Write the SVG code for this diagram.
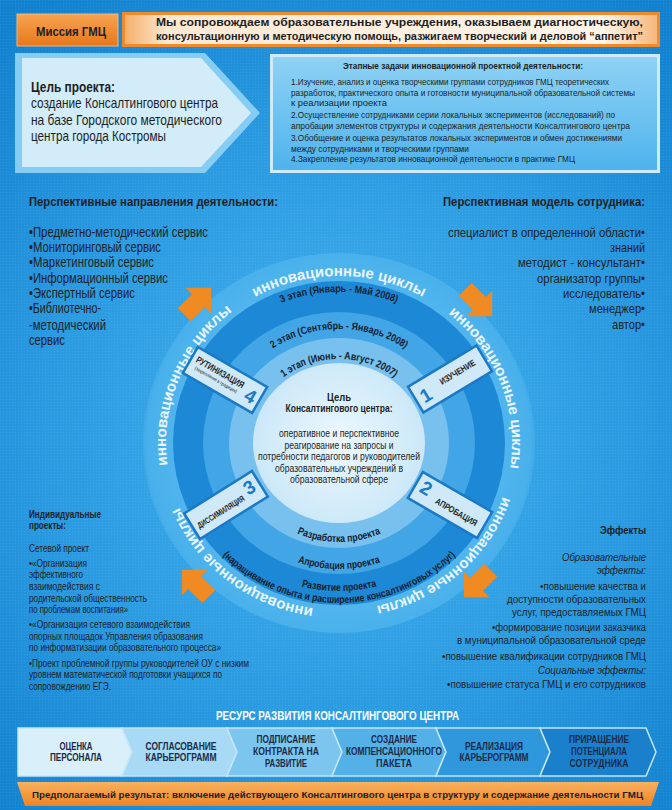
<svg xmlns="http://www.w3.org/2000/svg" width="672" height="810" viewBox="0 0 672 810">
<defs>
<radialGradient id="bg" cx="340" cy="430" r="520" gradientUnits="userSpaceOnUse">
<stop offset="0" stop-color="#48b4ee"/><stop offset="0.55" stop-color="#2b9be2"/><stop offset="1" stop-color="#1281cf"/>
</radialGradient>
<pattern id="grid" width="3" height="3" patternUnits="userSpaceOnUse"><rect width="1" height="1" fill="#ffffff" opacity="0.08"/></pattern>
<radialGradient id="halo" cx="339" cy="443" r="200" gradientUnits="userSpaceOnUse">
<stop offset="0.8" stop-color="#52b6ee"/><stop offset="0.96" stop-color="#48b0eb"/><stop offset="1" stop-color="#48b0eb" stop-opacity="0"/>
</radialGradient>
<radialGradient id="core" cx="339" cy="443" r="90" gradientUnits="userSpaceOnUse">
<stop offset="0" stop-color="#eef8fe"/><stop offset="1" stop-color="#c9e7f8"/>
</radialGradient>
<linearGradient id="orange" x1="0" y1="0" x2="0" y2="1"><stop offset="0" stop-color="#f7a452"/><stop offset="1" stop-color="#e8771a"/></linearGradient>
<linearGradient id="peach" x1="0" y1="0" x2="1" y2="0"><stop offset="0" stop-color="#f6b06a"/><stop offset="0.08" stop-color="#fde8d2"/><stop offset="0.9" stop-color="#fff4e8"/><stop offset="1" stop-color="#f6b77a"/></linearGradient>
<linearGradient id="task" x1="0" y1="0" x2="0" y2="1"><stop offset="0" stop-color="#8fd2f5"/><stop offset="1" stop-color="#4fb3ec"/></linearGradient>
<linearGradient id="bar" x1="0" y1="0" x2="0" y2="1"><stop offset="0" stop-color="#f9b25e"/><stop offset="1" stop-color="#ee8424"/></linearGradient>
<path id="bandP" d="M339,610 A173,167 0 1 1 339,276 A173,167 0 1 1 339,610"/>
<path id="t1" d="M250,443 A89,84 0 0 1 428,443"/>
<path id="t2" d="M221,443 A118,114 0 0 1 457,443"/>
<path id="t3" d="M184,443 A155,151 0 0 1 494,443"/>
<path id="b1" d="M236,443 A103,99 0 0 0 442,443"/>
<path id="b2" d="M209,443 A130,126 0 0 0 469,443"/>
<path id="b3" d="M187,443 A152,148 0 0 0 491,443"/>
<path id="b4" d="M175,443 A164,160 0 0 0 503,443"/>
<polygon id="arr" points="-18,-9 2,-9 2,-18 20,0 2,18 2,9 -18,9" fill="#f08a22"/>
</defs>
<style>
.t{font-family:'Liberation Sans Narrow','Liberation Sans',Arial,sans-serif;fill:#1c1f26}
.b{font-weight:bold}
.i{font-style:italic}
.w{fill:#ffffff}
.ring{font-family:'Liberation Sans Narrow','Liberation Sans',Arial,sans-serif;font-weight:bold;font-size:10.5px;fill:#15202e}
.band{font-family:'Liberation Sans','Liberation Sans Narrow',Arial,sans-serif;font-weight:bold;font-size:15px;fill:#e9f6fd}
.box{fill:#cfe9f8;stroke:#1b79c6;stroke-width:2.5}
.dig{font-family:'Liberation Sans',Arial,sans-serif;font-weight:bold;font-size:19px;fill:#1b79c6}
.chev{stroke:#c4e6f8;stroke-width:1.5}
.ct{font-family:'Liberation Sans Narrow','Liberation Sans',Arial,sans-serif;font-weight:bold;font-size:10.5px;fill:#1a2a48}
</style>
<rect width="672" height="810" fill="url(#bg)"/>
<rect width="672" height="810" fill="url(#grid)"/>

<g id="mission">
<rect x="17" y="14" width="101" height="32" fill="url(#orange)" stroke="#f7b676" stroke-width="1"/>
<text class="t b" x="71" y="35.5" font-size="13" text-anchor="middle" textLength="70" lengthAdjust="spacingAndGlyphs">Миссия ГМЦ</text>
<rect x="122" y="12" width="538" height="35" fill="#f08a2a"/>
<rect x="125" y="15" width="532" height="29" fill="url(#peach)"/>
<text class="t b" x="156" y="26" font-size="11.5" textLength="487" lengthAdjust="spacingAndGlyphs">Мы сопровождаем образовательные учреждения, оказываем диагностическую,</text>
<text class="t b" x="156" y="40" font-size="11.5" textLength="487" lengthAdjust="spacingAndGlyphs">консультационную и методическую помощь, разжигаем творческий и деловой “аппетит”</text>
</g>

<g id="goal">
<polygon points="15,53 205,53 260,113 205,173 15,173" fill="#86cdf3"/>
<polygon points="22,58 201,58 251,113 201,167 22,167" fill="#d3ecf9"/>
<text class="t b" x="31" y="92" font-size="15" textLength="84" lengthAdjust="spacingAndGlyphs">Цель проекта:</text>
<text class="t" x="31" y="108" font-size="14.5" textLength="187" lengthAdjust="spacingAndGlyphs">создание Консалтингового центра</text>
<text class="t" x="31" y="125" font-size="14.5" textLength="191" lengthAdjust="spacingAndGlyphs">на базе Городского методического</text>
<text class="t" x="31" y="141" font-size="14.5" textLength="135" lengthAdjust="spacingAndGlyphs">центра города Костромы</text>
</g>

<g id="tasks">
<rect x="270" y="54" width="390" height="119" fill="#cfeaf8"/>
<rect x="273" y="57" width="384" height="113" fill="url(#task)"/>
<text class="t b" x="343" y="69" font-size="9.5" textLength="240" lengthAdjust="spacingAndGlyphs">Этапные задачи инновационной проектной деятельности:</text>
<g class="t" font-size="8.7">
<text x="291" y="85" textLength="318" lengthAdjust="spacingAndGlyphs">1.Изучение, анализ и оценка творческими группами сотрудников ГМЦ теоретических</text>
<text x="291" y="96" textLength="344" lengthAdjust="spacingAndGlyphs">разработок, практического опыта и готовности муниципальной образовательной системы</text>
<text x="291" y="106" textLength="96" lengthAdjust="spacingAndGlyphs">к реализации проекта</text>
<text x="291" y="117.5" textLength="324" lengthAdjust="spacingAndGlyphs">2.Осуществление сотрудниками серии локальных экспериментов (исследований) по</text>
<text x="291" y="129" textLength="339" lengthAdjust="spacingAndGlyphs">апробации элементов структуры и содержания деятельности Консалтингового центра</text>
<text x="291" y="141" textLength="331" lengthAdjust="spacingAndGlyphs">3.Обобщение и оценка результатов локальных экспериментов и обмен достижениями</text>
<text x="291" y="152" textLength="178" lengthAdjust="spacingAndGlyphs">между сотрудниками и творческими группами</text>
<text x="291" y="162" textLength="284" lengthAdjust="spacingAndGlyphs">4.Закрепление результатов инновационной деятельности в практике ГМЦ</text>
</g>
</g>

<g id="directions" class="t" font-size="14.5">
<text class="b" x="29" y="206" font-size="13.5" textLength="249" lengthAdjust="spacingAndGlyphs">Перспективные направления деятельности:</text>
<text x="29" y="237" textLength="179" lengthAdjust="spacingAndGlyphs">•Предметно-методический сервис</text>
<text x="29" y="252" textLength="132" lengthAdjust="spacingAndGlyphs">•Мониторинговый сервис</text>
<text x="29" y="267" textLength="125" lengthAdjust="spacingAndGlyphs">•Маркетинговый сервис</text>
<text x="29" y="283" textLength="139" lengthAdjust="spacingAndGlyphs">•Информационный сервис</text>
<text x="29" y="298" textLength="106" lengthAdjust="spacingAndGlyphs">•Экспертный сервис</text>
<text x="29" y="313" textLength="72" lengthAdjust="spacingAndGlyphs">•Библиотечно-</text>
<text x="29" y="330" textLength="77" lengthAdjust="spacingAndGlyphs">-методический</text>
<text x="29" y="345" textLength="36" lengthAdjust="spacingAndGlyphs">сервис</text>
</g>

<g id="model" class="t" font-size="12.8">
<text class="b" x="443" y="206" font-size="12.3" textLength="202" lengthAdjust="spacingAndGlyphs">Перспективная модель сотрудника:</text>
<text x="448" y="237" textLength="197" lengthAdjust="spacingAndGlyphs">специалист в определенной области•</text>
<text x="610" y="252" textLength="35" lengthAdjust="spacingAndGlyphs">знаний</text>
<text x="518" y="267" textLength="127" lengthAdjust="spacingAndGlyphs">методист - консультант•</text>
<text x="537" y="283" textLength="108" lengthAdjust="spacingAndGlyphs">организатор группы•</text>
<text x="563" y="298" textLength="82" lengthAdjust="spacingAndGlyphs">исследователь•</text>
<text x="589" y="313" textLength="56" lengthAdjust="spacingAndGlyphs">менеджер•</text>
<text x="612" y="329" textLength="33" lengthAdjust="spacingAndGlyphs">автор•</text>
</g>

<g id="cycle">
<ellipse cx="339" cy="443" rx="196" ry="190" fill="url(#halo)"/>
<ellipse cx="339" cy="443" rx="166" ry="162" fill="#1d88d5"/>
<ellipse cx="339" cy="443" rx="136" ry="131" fill="#42a6e6"/>
<ellipse cx="339" cy="443" rx="110" ry="105" fill="#78c1ef"/>
<ellipse cx="339" cy="443" rx="86" ry="80" fill="url(#core)"/>
<text class="band"><textPath href="#bandP" startOffset="10.6%" text-anchor="middle" textLength="175" lengthAdjust="spacingAndGlyphs">инновационные циклы</textPath></text>
<text class="band"><textPath href="#bandP" startOffset="31.1%" text-anchor="middle" textLength="175" lengthAdjust="spacingAndGlyphs">инновационные циклы</textPath></text>
<text class="band"><textPath href="#bandP" startOffset="50%" text-anchor="middle" textLength="175" lengthAdjust="spacingAndGlyphs">инновационные циклы</textPath></text>
<text class="band"><textPath href="#bandP" startOffset="69.2%" text-anchor="middle" textLength="175" lengthAdjust="spacingAndGlyphs">инновационные циклы</textPath></text>
<text class="band"><textPath href="#bandP" startOffset="88.3%" text-anchor="middle" textLength="175" lengthAdjust="spacingAndGlyphs">инновационные циклы</textPath></text>
<text class="ring"><textPath href="#t3" startOffset="50%" text-anchor="middle" textLength="118" lengthAdjust="spacingAndGlyphs">3 этап (Январь - Май 2008)</textPath></text>
<text class="ring"><textPath href="#t2" startOffset="50%" text-anchor="middle" textLength="140" lengthAdjust="spacingAndGlyphs">2 этап (Сентябрь - Январь 2008)</textPath></text>
<text class="ring"><textPath href="#t1" startOffset="50%" text-anchor="middle" textLength="119" lengthAdjust="spacingAndGlyphs">1 этап (Июнь - Август 2007)</textPath></text>
<text class="ring"><textPath href="#b1" startOffset="50%" text-anchor="middle" textLength="86" lengthAdjust="spacingAndGlyphs">Разработка проекта</textPath></text>
<text class="ring"><textPath href="#b2" startOffset="50%" text-anchor="middle" textLength="84" lengthAdjust="spacingAndGlyphs">Апробация проекта</textPath></text>
<text class="ring"><textPath href="#b3" startOffset="50%" text-anchor="middle" textLength="76" lengthAdjust="spacingAndGlyphs">Развитие проекта</textPath></text>
<text class="ring" font-size="10"><textPath href="#b4" startOffset="50%" text-anchor="middle" textLength="258" lengthAdjust="spacingAndGlyphs">(наращивание опыта и расширение консалтинговых услуг)</textPath></text>
</g>

<g id="center" class="t" font-size="10" text-anchor="middle">
<text class="b" x="339" y="401" textLength="24" lengthAdjust="spacingAndGlyphs">Цель</text>
<text class="b" x="339" y="412" textLength="107" lengthAdjust="spacingAndGlyphs">Консалтингового центра:</text>
<text x="339" y="436.5" textLength="120" lengthAdjust="spacingAndGlyphs">оперативное и перспективное</text>
<text x="339" y="448.5" textLength="109" lengthAdjust="spacingAndGlyphs">реагирование на запросы и</text>
<text x="339" y="460" textLength="162" lengthAdjust="spacingAndGlyphs">потребности педагогов и руководителей</text>
<text x="339" y="471.5" textLength="128" lengthAdjust="spacingAndGlyphs">образовательных учреждений в</text>
<text x="339" y="483" textLength="98" lengthAdjust="spacingAndGlyphs">образовательной сфере</text>
</g>

<g id="stage1" transform="translate(450,379) rotate(-31)">
<rect class="box" x="-40" y="-15" width="80" height="30"/>
<text class="dig" x="-29" y="8" text-anchor="middle">1</text>
<text class="t b" x="10" y="1" font-size="9" text-anchor="middle" textLength="40" lengthAdjust="spacingAndGlyphs">ИЗУЧЕНИЕ</text>
</g>
<g id="stage2" transform="translate(450,505) rotate(30)">
<rect class="box" x="-40" y="-15" width="80" height="30"/>
<text class="dig" x="-29" y="4" text-anchor="middle">2</text>
<text class="t b" x="9" y="6" font-size="9" text-anchor="middle" textLength="47" lengthAdjust="spacingAndGlyphs">АПРОБАЦИЯ</text>
</g>
<g id="stage3" transform="translate(226,505) rotate(-32)">
<rect class="box" x="-40" y="-15" width="80" height="30"/>
<text class="dig" x="29" y="4" text-anchor="middle">3</text>
<text class="t b" x="-8" y="6" font-size="8.5" text-anchor="middle" textLength="54" lengthAdjust="spacingAndGlyphs">ДИССИМИЛЯЦИЯ</text>
</g>
<g id="stage4" transform="translate(225,380) rotate(30)">
<rect class="box" x="-40" y="-15" width="80" height="30"/>
<text class="dig" x="30" y="8" text-anchor="middle">4</text>
<text class="t b" x="-8" y="-1" font-size="9.5" text-anchor="middle" textLength="54" lengthAdjust="spacingAndGlyphs">РУТИНИЗАЦИЯ</text>
<text class="t" x="-8" y="6" font-size="5" text-anchor="middle" textLength="48" lengthAdjust="spacingAndGlyphs">(закрепление в традиции)</text>
</g>

<g id="connectors">
<use href="#arr" transform="translate(197,302) rotate(-45)"/>
<use href="#arr" transform="translate(478,302) rotate(45)"/>
<use href="#arr" transform="translate(478,583) rotate(135)"/>
<use href="#arr" transform="translate(196,584) rotate(-135)"/>
</g>

<g id="projects" class="t" font-size="10">
<text class="b" x="29" y="518" textLength="72" lengthAdjust="spacingAndGlyphs">Индивидуальные</text>
<text class="b" x="29" y="529" textLength="37" lengthAdjust="spacingAndGlyphs">проекты:</text>
<text x="29" y="552" textLength="60" lengthAdjust="spacingAndGlyphs">Сетевой проект</text>
<text x="29" y="567" textLength="58" lengthAdjust="spacingAndGlyphs">•«Организация</text>
<text x="29" y="578" textLength="54" lengthAdjust="spacingAndGlyphs">эффективного</text>
<text x="29" y="590" textLength="71" lengthAdjust="spacingAndGlyphs">взаимодействия с</text>
<text x="29" y="602" textLength="118" lengthAdjust="spacingAndGlyphs">родительской общественность</text>
<text x="29" y="613" textLength="99" lengthAdjust="spacingAndGlyphs">по проблемам воспитания»</text>
<text x="29" y="628" textLength="161" lengthAdjust="spacingAndGlyphs">•«Организация сетевого взаимодействия</text>
<text x="29" y="640" textLength="174" lengthAdjust="spacingAndGlyphs">опорных площадок Управления образования</text>
<text x="29" y="651" textLength="192" lengthAdjust="spacingAndGlyphs">по информатизации образовательного процесса»</text>
<text x="29" y="667" textLength="220" lengthAdjust="spacingAndGlyphs">•Проект проблемной группы руководителей ОУ с низким</text>
<text x="29" y="678" textLength="193" lengthAdjust="spacingAndGlyphs">уровнем математической подготовки учащихся по</text>
<text x="29" y="690" textLength="82" lengthAdjust="spacingAndGlyphs">сопровождению ЕГЭ.</text>
</g>

<g id="effects" class="t" font-size="10.8">
<text class="b" x="600" y="534" textLength="46" lengthAdjust="spacingAndGlyphs">Эффекты</text>
<text class="i" x="562" y="561" textLength="84" lengthAdjust="spacingAndGlyphs">Образовательные</text>
<text class="i" x="597" y="574" textLength="49" lengthAdjust="spacingAndGlyphs">эффекты:</text>
<text x="540" y="590" textLength="106" lengthAdjust="spacingAndGlyphs">•повышение качества и</text>
<text x="507" y="603" textLength="139" lengthAdjust="spacingAndGlyphs">доступности образовательных</text>
<text x="512" y="616" textLength="134" lengthAdjust="spacingAndGlyphs">услуг, предоставляемых ГМЦ</text>
<text x="492" y="631" textLength="154" lengthAdjust="spacingAndGlyphs">•формирование позиции заказчика</text>
<text x="457" y="644" textLength="189" lengthAdjust="spacingAndGlyphs">в муниципальной образовательной среде</text>
<text x="442" y="660" textLength="204" lengthAdjust="spacingAndGlyphs">•повышение квалификации сотрудников ГМЦ</text>
<text class="i" x="538" y="674" textLength="108" lengthAdjust="spacingAndGlyphs">Социальные эффекты:</text>
<text x="447" y="688" textLength="199" lengthAdjust="spacingAndGlyphs">•повышение статуса ГМЦ и его сотрудников</text>
</g>

<g id="resource">
<text class="t b w" x="216" y="720" font-size="12" textLength="243" lengthAdjust="spacingAndGlyphs">РЕСУРС РАЗВИТИЯ КОНСАЛТИНГОВОГО ЦЕНТРА</text>
<g id="step1"><polygon class="chev" points="18,728 122,728 132,752 122,776 18,776" fill="#d9f0fb"/>
<text class="ct" x="76" y="750" text-anchor="middle" textLength="33" lengthAdjust="spacingAndGlyphs">ОЦЕНКА</text>
<text class="ct" x="76" y="761" text-anchor="middle" textLength="52" lengthAdjust="spacingAndGlyphs">ПЕРСОНАЛА</text></g>
<g id="step2"><polygon class="chev" points="122,728 227,728 237,752 227,776 122,776 132,752" fill="#a8daf5"/>
<text class="ct" x="181" y="750" text-anchor="middle" textLength="71" lengthAdjust="spacingAndGlyphs">СОГЛАСОВАНИЕ</text>
<text class="ct" x="181" y="761" text-anchor="middle" textLength="71" lengthAdjust="spacingAndGlyphs">КАРЬЕРОГРАММ</text></g>
<g id="step3"><polygon class="chev" points="227,728 332,728 342,752 332,776 227,776 237,752" fill="#7cc5ef"/>
<text class="ct" x="286" y="743" text-anchor="middle" textLength="59" lengthAdjust="spacingAndGlyphs">ПОДПИСАНИЕ</text>
<text class="ct" x="286" y="755" text-anchor="middle" textLength="66" lengthAdjust="spacingAndGlyphs">КОНТРАКТА НА</text>
<text class="ct" x="286" y="767" text-anchor="middle" textLength="42" lengthAdjust="spacingAndGlyphs">РАЗВИТИЕ</text></g>
<g id="step4"><polygon class="chev" points="332,728 436,728 446,752 436,776 332,776 342,752" fill="#54b1e8"/>
<text class="ct" x="394" y="743" text-anchor="middle" textLength="46" lengthAdjust="spacingAndGlyphs">СОЗДАНИЕ</text>
<text class="ct" x="394" y="755" text-anchor="middle" textLength="96" lengthAdjust="spacingAndGlyphs">КОМПЕНСАЦИОННОГО</text>
<text class="ct" x="394" y="767" text-anchor="middle" textLength="36" lengthAdjust="spacingAndGlyphs">ПАКЕТА</text></g>
<g id="step5"><polygon class="chev" points="436,728 540,728 550,752 540,776 436,776 446,752" fill="#2f97dc"/>
<text class="ct" x="494" y="750" text-anchor="middle" textLength="58" lengthAdjust="spacingAndGlyphs">РЕАЛИЗАЦИЯ</text>
<text class="ct" x="494" y="761" text-anchor="middle" textLength="69" lengthAdjust="spacingAndGlyphs">КАРЬЕРОГРАММ</text></g>
<g id="step6"><polygon class="chev" points="540,728 646,728 656,752 646,776 540,776 550,752" fill="#1a80cc"/>
<text class="ct" x="599" y="743" text-anchor="middle" textLength="60" lengthAdjust="spacingAndGlyphs">ПРИРАЩЕНИЕ</text>
<text class="ct" x="599" y="755" text-anchor="middle" textLength="56" lengthAdjust="spacingAndGlyphs">ПОТЕНЦИАЛА</text>
<text class="ct" x="599" y="767" text-anchor="middle" textLength="59" lengthAdjust="spacingAndGlyphs">СОТРУДНИКА</text></g>
</g>

<g id="result">
<polygon points="17,782 659,782 651,806 25,806" fill="url(#bar)"/>
<text class="t b" x="32" y="797.5" font-size="9.7" textLength="611" lengthAdjust="spacingAndGlyphs">Предполагаемый результат: включение действующего Консалтингового центра в структуру и содержание деятельности ГМЦ</text>
</g>
</svg>
